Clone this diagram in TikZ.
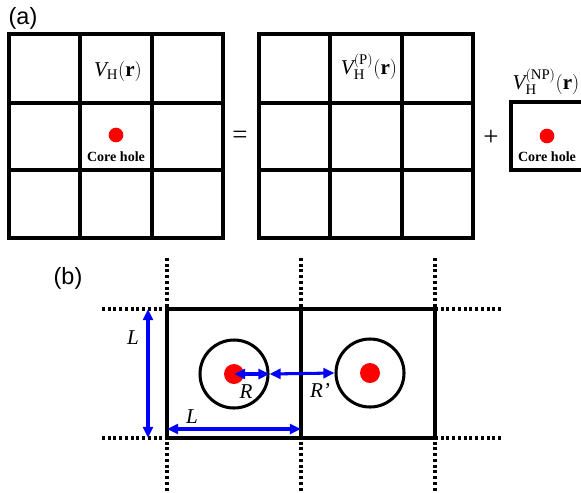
\documentclass[tikz,border=0pt]{standalone}
\usepackage{fontspec}
\setmainfont{Liberation Serif}
\setsansfont{Liberation Sans}
\usetikzlibrary{arrows.meta, positioning, calc}
\definecolor{holered}{HTML}{FF0000}
\definecolor{dimblue}{HTML}{0000FF}

\begin{document}
\begin{tikzpicture}[
  x=0.03cm, y=-0.03cm,
  >={Triangle[length=9.5pt, width=8.5pt]},
  cellline/.style={line width=2.6pt, black},
  dotline/.style={line width=2.6pt, black, dash pattern=on 2.5pt off 2.4pt},
  hole/.style={circle, fill=holered, inner sep=0pt, minimum size=#1},
  ring/.style={circle, draw=black, line width=2.6pt, inner sep=0pt, minimum size=2.04cm},
  dimarr/.style={<->, line width=2.6pt, dimblue},
  panellbl/.style={font=\sffamily\fontsize{20}{24}\selectfont},
  potlbl/.style={font=\fontsize{18}{21}\selectfont, inner sep=0pt},
  holelbl/.style={font=\bfseries\fontsize{12}{14}\selectfont, inner sep=0pt},
  dimlbl/.style={font=\itshape\fontsize{18}{21}\selectfont, inner sep=0pt},
  oplbl/.style={font=\fontsize{23}{26}\selectfont, inner sep=0pt},
]
\useasboundingbox (0,0) rectangle (581,492);

% =============================================
% (a) Splitting of the Hartree potential
% =============================================
\node[panellbl] (lbl-a) at (23,18) {(a)};

% two 3x3 supercells
\foreach \gx in {0,250} {
  \draw[cellline] (9+\gx,34) rectangle (223+\gx,238);
  \draw[cellline] (80+\gx,34) -- (80+\gx,238);
  \draw[cellline] (152+\gx,34) -- (152+\gx,238);
  \draw[cellline] (9+\gx,103) -- (223+\gx,103);
  \draw[cellline] (9+\gx,170) -- (223+\gx,170);
}

\node[potlbl] (vh) at (118,71) {$\mathit{V}_{\mathrm{H}}(\mathbf{r})$};
\node[hole=0.44cm] (hole-a) at (116,135) {};
\node[holelbl] (core-a) at (116,157) {Core hole};

\node[oplbl] (eq) at (240,137) {=};

\node[potlbl] (vhp) at (369,67) {$\mathit{V}_{\mathrm{H}}^{\mathrm{(P)}}(\mathbf{r})$};

\node[oplbl] (plus) at (491,138) {+};

% single cell with the isolated hole
\draw[cellline] (511,102) rectangle (583,170);
\node[potlbl] (vhnp) at (546,82) {$\mathit{V}_{\mathrm{H}}^{\mathrm{(NP)}}(\mathbf{r})$};
\node[hole=0.44cm] (hole-np) at (547,136) {};
\node[holelbl] (core-np) at (547,157) {Core hole};

% =============================================
% (b) Two neighbouring cells
% =============================================
\node[panellbl] (lbl-b) at (68,278) {(b)};

% periodic continuation
\foreach \x in {167,301,435}
  \draw[dotline] (\x,258) -- (\x,492);
\foreach \y in {309,438} {
  \draw[dotline] (102,\y) -- (167,\y);
  \draw[dotline] (435,\y) -- (502,\y);
}

% the cells
\draw[cellline] (167,309) rectangle (435,438);
\draw[cellline] (301,309) -- (301,438);

\node[ring] (ring1) at (234,374) {};
\node[ring] (ring2) at (370,373) {};
\node[hole=0.6cm] (hole1) at (234,374) {};
\node[hole=0.6cm] (hole2) at (370,373) {};

% dimensions
\coordinate (lv-top) at (148,309);
\coordinate (lv-bot) at (148,438);
\coordinate (lh-left) at (167,429);
\coordinate (lh-right) at (301,429);

\draw[dimarr] (lv-top) -- (lv-bot);
\node[dimlbl] (len-v) at (133,338) {L};
\draw[dimarr] (lh-left) -- (lh-right);
\node[dimlbl] (len-h) at (192,417) {L};

\draw[dimarr] (hole1.center) -- (ring1.east);
\node[dimlbl] (rad) at (246,392) {R};
\draw[dimarr] (ring1.east) -- (ring2.west);
\node[dimlbl] (dist) at (320,390) {R’};

\end{tikzpicture}
\end{document}
